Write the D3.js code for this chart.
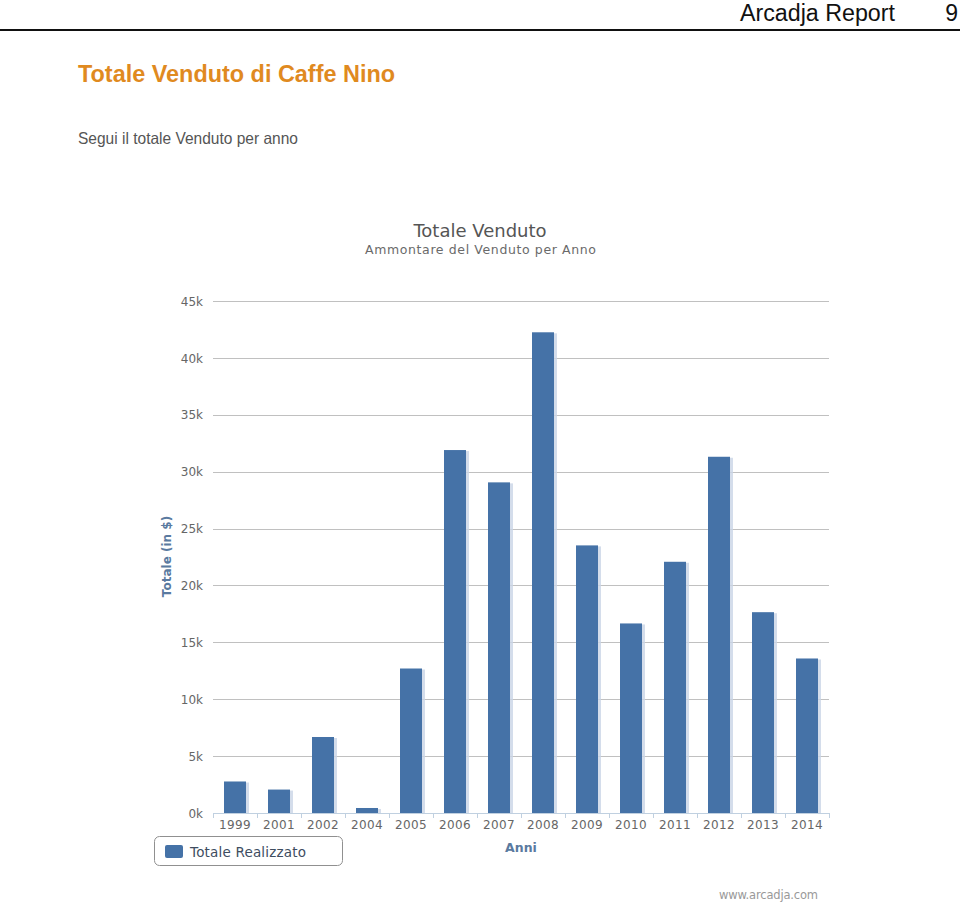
<!DOCTYPE html>
<html>
<head>
<meta charset="utf-8">
<script src="https://cdn.jsdelivr.net/npm/d3@7"></script>
<style>
  html, body { margin: 0; padding: 0; background: #fff; }
  svg { display: block; }
</style>
</head>
<body>
<svg id="chart" width="960" height="908"></svg>
<script>
// ---- data ----
const years = ["1999","2001","2002","2004","2005","2006","2007","2008","2009","2010","2011","2012","2013","2014"];
const totals = [2770, 2060, 6680, 440, 12700, 31900, 29060, 42250, 23520, 16660, 22080, 31310, 17650, 13580];
const yTicks = [0, 5000, 10000, 15000, 20000, 25000, 30000, 35000, 40000, 45000];
const seriesName = "Totale Realizzato";

const svg = d3.select("#chart");
const barColor = "#4572A7";

// ---- page header ----
svg.append("text").attr("x", 895).attr("y", 21).attr("text-anchor", "end")
  .attr("font-family", "Liberation Sans, Arial, sans-serif").attr("font-size", 23)
  .attr("fill", "#111").attr("textLength", 155).attr("lengthAdjust", "spacingAndGlyphs")
  .text("Arcadja Report");
svg.append("text").attr("x", 958).attr("y", 21).attr("text-anchor", "end")
  .attr("font-family", "Liberation Sans, Arial, sans-serif").attr("font-size", 23)
  .attr("fill", "#111").text("9");
svg.append("rect").attr("x", 0).attr("y", 29).attr("width", 960).attr("height", 2).attr("fill", "#111");

svg.append("text").attr("x", 78).attr("y", 82)
  .attr("font-family", "Liberation Sans, Arial, sans-serif").attr("font-size", 23).attr("font-weight", "bold")
  .attr("fill", "#E08A1F").attr("textLength", 317).attr("lengthAdjust", "spacingAndGlyphs")
  .text("Totale Venduto di Caffe Nino");
svg.append("text").attr("x", 78).attr("y", 144)
  .attr("font-family", "Liberation Sans, Arial, sans-serif").attr("font-size", 16.5)
  .attr("fill", "#555").attr("textLength", 220).attr("lengthAdjust", "spacingAndGlyphs")
  .text("Segui il totale Venduto per anno");

// ---- chart ----
const font = "DejaVu Sans, Verdana, sans-serif";
const x = d3.scaleBand().domain(years).range([213, 829]).paddingInner(0.5).paddingOuter(0.25);
const y = d3.scaleLinear().domain([0, 45000]).range([813, 301]);

svg.append("text").attr("x", 480).attr("y", 237).attr("text-anchor", "middle")
  .attr("font-family", font).attr("font-size", 18).attr("fill", "#555")
  .text("Totale Venduto");
svg.append("text").attr("x", 480.5).attr("y", 253.5).attr("text-anchor", "middle")
  .attr("font-family", font).attr("font-size", 12.5).attr("fill", "#6a6a6a")
  .attr("textLength", 231).attr("lengthAdjust", "spacing")
  .text("Ammontare del Venduto per Anno");

// gridlines
svg.append("g").selectAll("line").data(yTicks.filter(d => d > 0)).join("line")
  .attr("x1", 213).attr("x2", 829)
  .attr("y1", d => Math.round(y(d)) + 0.5).attr("y2", d => Math.round(y(d)) + 0.5)
  .attr("stroke", "#C0C0C0").attr("stroke-width", 1);

// y axis labels
const yAxis = d3.axisLeft(y).tickValues(yTicks).tickSize(0).tickPadding(0)
  .tickFormat(d => (d / 1000) + "k");
const gy = svg.append("g").attr("transform", "translate(203,0)").call(yAxis);
gy.select(".domain").remove();
gy.selectAll("text").attr("font-family", font).attr("font-size", 12).attr("fill", "#666").attr("dy", "0.35em");

// y title
svg.append("text").attr("transform", "translate(171,556.5) rotate(-90)").attr("text-anchor", "middle")
  .attr("font-family", font).attr("font-size", 12).attr("font-weight", "bold").attr("fill", "#5a7aa0")
  .text("Totale (in $)");

// bars: shadow + bar
const bars = svg.append("g");
bars.selectAll("rect.shadow").data(years).join("rect").attr("class", "shadow")
  .attr("x", d => x(d) + 1).attr("width", x.bandwidth() + 2)
  .attr("y", (d, i) => y(totals[i]) + 1).attr("height", (d, i) => 813 - y(totals[i]) - 1)
  .attr("fill", "#c9d5e6").attr("opacity", 0.8);
bars.selectAll("rect.bar").data(years).join("rect").attr("class", "bar")
  .attr("x", d => x(d)).attr("width", x.bandwidth())
  .attr("y", (d, i) => y(totals[i])).attr("height", (d, i) => 813 - y(totals[i]))
  .attr("fill", barColor);

// x axis
const xAxis = d3.axisBottom(x).tickSize(0).tickPadding(0);
const gx = svg.append("g").attr("transform", "translate(0,813)").call(xAxis);
gx.select(".domain").remove();
gx.selectAll("text").attr("font-family", font).attr("font-size", 12).attr("fill", "#666")
  .attr("y", 15.5).attr("dy", 0).attr("letter-spacing", 0.4);
svg.append("line").attr("x1", 213).attr("x2", 829).attr("y1", 813.5).attr("y2", 813.5)
  .attr("stroke", "#C0D0E0").attr("stroke-width", 1);
// category boundary ticks
const bounds = years.map(d => x(d) - x.step() * 0.25).concat([829]);
svg.append("g").selectAll("line").data(bounds).join("line")
  .attr("x1", d => Math.round(d) + 0.5).attr("x2", d => Math.round(d) + 0.5)
  .attr("y1", 813).attr("y2", 818).attr("stroke", "#C0D0E0");

svg.append("text").attr("x", 521).attr("y", 851.5).attr("text-anchor", "middle")
  .attr("font-family", font).attr("font-size", 12.5).attr("font-weight", "bold").attr("fill", "#5a7aa0")
  .text("Anni");

// legend
const lg = svg.append("g");
lg.append("rect").attr("x", 154.5).attr("y", 836.5).attr("width", 188).attr("height", 29).attr("rx", 5)
  .attr("fill", "#fff").attr("stroke", "#909090").attr("stroke-width", 1);
lg.append("rect").attr("x", 165).attr("y", 845).attr("width", 18).attr("height", 13).attr("rx", 2)
  .attr("fill", barColor);
lg.append("text").attr("x", 190).attr("y", 857)
  .attr("font-family", font).attr("font-size", 13.5).attr("fill", "#3E4D5F")
  .attr("textLength", 116).attr("lengthAdjust", "spacing")
  .text(seriesName);

// credit
svg.append("text").attr("x", 818).attr("y", 899).attr("text-anchor", "end")
  .attr("font-family", font).attr("font-size", 11.5).attr("fill", "#999")
  .attr("textLength", 99).attr("lengthAdjust", "spacing")
  .text("www.arcadja.com");
</script>
</body>
</html>
